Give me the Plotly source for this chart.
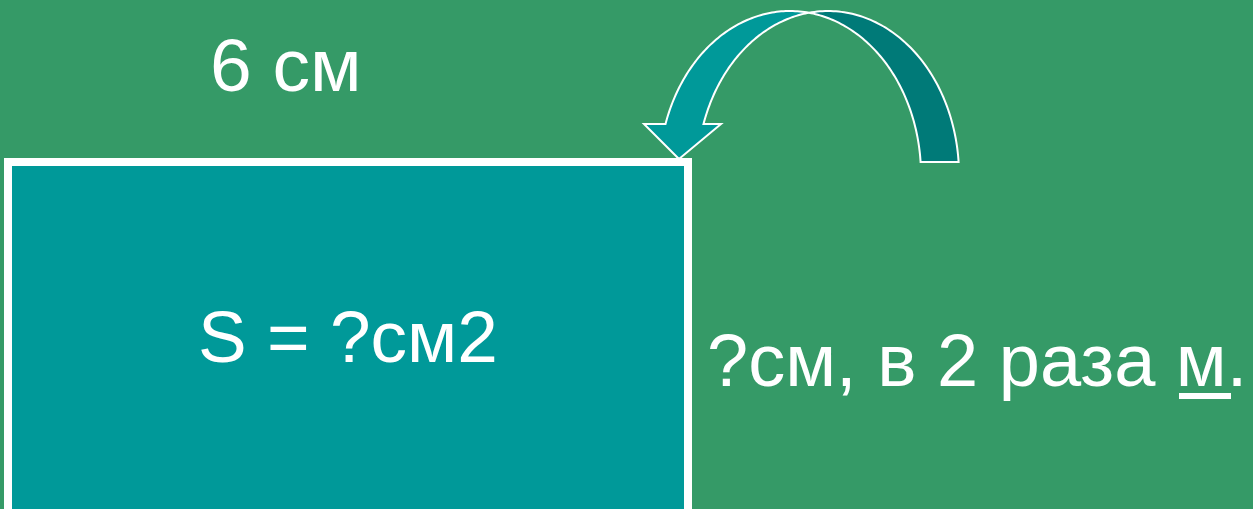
import numpy as np
import plotly.graph_objects as go

# ---- content (texts of the slide) ----
top_label = "6 см"
area_label = "S = ?см2"
side_label = "?см, в 2 раза м."

# ---- canvas ----
W, H = 1253, 509
BG = "#359a67"
TEAL = "#009999"
DARK_TEAL = "#007a78"
WHITE = "#ffffff"
FONT = "Liberation Sans, Arial, sans-serif"

fig = go.Figure()

# ---- rectangle ----
shapes = [dict(type="rect", xref="x", yref="y", x0=8, y0=162, x1=688, y1=540,
               line=dict(color=WHITE, width=8), fillcolor=TEAL, layer="above")]

# ---- curved arrow: two equal ellipses offset horizontally ----
c1, c2, rx, cy, ry = 790.0, 828.0, 131.0, 175.0, 164.0
xi = (c1 + c2) / 2
t_i1 = np.arccos((xi - c1) / rx)      # intersection on E1
t_i2 = np.arccos((xi - c2) / rx)      # intersection on E2
y_head = 124.0
y_tail = 162.0
t_head = np.pi - np.arcsin((cy - y_head) / ry)
t_tail = np.arcsin((cy - y_tail) / ry)

def ell(c, t):
    return c + rx * np.cos(t), cy - ry * np.sin(t)

def pts(c, ta, tb, n=80):
    t = np.linspace(ta, tb, n)
    x, y = ell(c, t)
    return list(zip(x, y))

def to_path(points):
    s = "M %.2f %.2f " % points[0]
    s += " ".join("L %.2f %.2f" % p for p in points[1:])
    return s + " Z"

# back band (darker, right side)
back = pts(c2, t_i2, t_tail) + pts(c1, t_tail, t_i1)
shapes.append(dict(type="path", xref="x", yref="y", path=to_path(back),
                   fillcolor=DARK_TEAL, line=dict(color=WHITE, width=2), layer="above"))

# front band with arrow head (left side)
tip = (679.0, 159.0)
head_l = (644.0, y_head)
head_r = (721.0, y_head)
front = [tip, head_l] + pts(c1, t_head, t_i1) + pts(c2, t_i2, t_head) + [head_r]
shapes.append(dict(type="path", xref="x", yref="y", path=to_path(front),
                   fillcolor=TEAL, line=dict(color=WHITE, width=2), layer="above"))

# underline under the last "м"
shapes.append(dict(type="rect", xref="x", yref="y", x0=1179, x1=1231, y0=393, y1=399,
                   fillcolor=WHITE, line=dict(width=0), layer="above"))

annotations = [
    dict(x=285.5, y=65, text=top_label, xanchor="center", yanchor="middle",
         font=dict(size=75, color=WHITE, family=FONT)),
    dict(x=347.5, y=336, text=area_label, xanchor="center", yanchor="middle",
         font=dict(size=73, color=WHITE, family=FONT)),
    dict(x=977, y=360, text=side_label, xanchor="center", yanchor="middle",
         font=dict(size=74, color=WHITE, family=FONT)),
]
for a in annotations:
    a.update(xref="x", yref="y", showarrow=False)

fig.update_layout(
    width=W, height=H, margin=dict(l=0, r=0, t=0, b=0),
    paper_bgcolor=BG, plot_bgcolor=BG,
    xaxis=dict(range=[0, W], visible=False, fixedrange=True),
    yaxis=dict(range=[H, 0], visible=False, fixedrange=True),
    shapes=shapes, annotations=annotations, showlegend=False,
)
fig.write_html(
    "out.html",
    config=dict(displayModeBar=False),
    post_script="document.body.style.margin='0';document.body.style.overflow='hidden';"
                "document.body.style.background='" + BG + "';",
)
